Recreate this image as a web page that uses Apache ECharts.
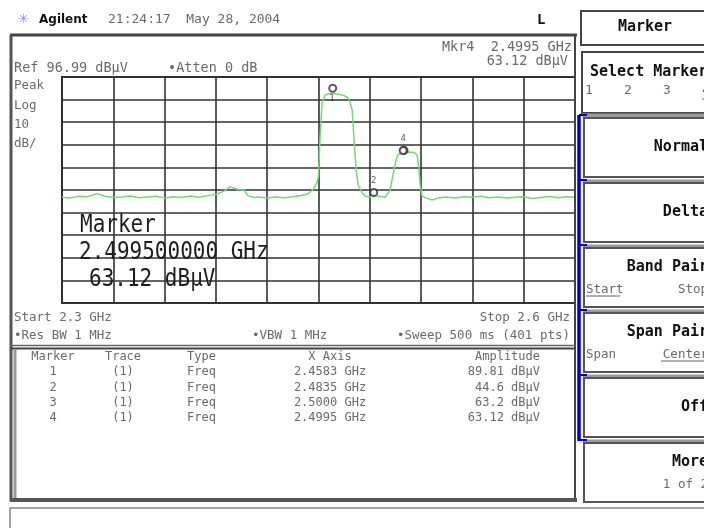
<!DOCTYPE html>
<html>
<head>
<meta charset="utf-8">
<script src="https://cdn.jsdelivr.net/npm/echarts@6/dist/echarts.min.js"></script>
<style>
  html, body { margin: 0; padding: 0; background: #fff; }
  #chart { width: 704px; height: 528px; }
</style>
</head>
<body>
<div id="chart"></div>
<script>
// trace 1 (GHz / dBµV)
const traceFreq = [
  2.300, 2.305, 2.310, 2.315, 2.3205, 2.325, 2.330, 2.335, 2.340, 2.345,
  2.350, 2.355, 2.360, 2.365, 2.370, 2.375, 2.380, 2.385, 2.390, 2.395,
  2.398, 2.400, 2.403, 2.4065, 2.4085, 2.412, 2.415, 2.420, 2.425, 2.430,
  2.435, 2.440, 2.444, 2.447, 2.449, 2.450, 2.4509, 2.4521, 2.4539, 2.4560,
  2.4583, 2.4605, 2.4626, 2.4650, 2.4673, 2.4685, 2.4697, 2.4708, 2.4720, 2.4732,
  2.4755, 2.4773, 2.4800, 2.4835, 2.4860, 2.4890, 2.4919, 2.4931, 2.4942, 2.4954,
  2.4966, 2.4977, 2.4995, 2.5000, 2.5024, 2.5050, 2.5065, 2.5077, 2.5088, 2.5094,
  2.5106, 2.5130, 2.5165, 2.5200, 2.525, 2.530, 2.535, 2.540, 2.545, 2.550,
  2.555, 2.560, 2.565, 2.570, 2.575, 2.580, 2.585, 2.590, 2.595, 2.600
];
const traceAmp = [
  43.8, 43.5, 44.2, 44.0, 45.4, 44.2, 43.7, 43.9, 44.3, 43.6,
  43.9, 44.2, 43.5, 44.0, 43.7, 44.3, 43.8, 44.5, 45.0, 46.6,
  48.3, 48.0, 47.2, 47.0, 44.6, 43.7, 43.9, 43.5, 43.9, 43.6,
  44.0, 44.6, 45.3, 47.4, 50.1, 52.7, 70.4, 85.5, 89.0, 89.6,
  89.81, 89.5, 89.2, 88.8, 87.7, 85.6, 82.4, 69.1, 55.8, 49.2,
  45.7, 44.3, 43.9, 44.6, 44.1, 43.8, 46.8, 52.0, 56.0, 60.3,
  62.8, 63.5, 63.12, 63.2, 63.8, 63.7, 63.3, 62.4, 55.8, 49.2,
  44.3, 43.4, 42.6, 43.5, 43.9, 43.5, 44.0, 43.8, 44.2, 43.6,
  43.9, 43.5, 43.8, 44.0, 43.2, 43.7, 44.1, 43.6, 44.0, 43.8
];

// marker table
const markerIds = ['1', '2', '3', '4'];
const markerTrace = ['(1)', '(1)', '(1)', '(1)'];
const markerType = ['Freq', 'Freq', 'Freq', 'Freq'];
const markerFreq = [2.4583, 2.4835, 2.5000, 2.4995];
const markerAmp = [89.81, 44.6, 63.2, 63.12];
const markerXText = ['2.4583 GHz', '2.4835 GHz', '2.5000 GHz', '2.4995 GHz'];
const markerAmpText = ['89.81 dBµV', '44.6 dBµV', '63.2 dBµV', '63.12 dBµV'];

// screen settings
const refLevel = 96.99;
const dbPerDiv = 10;
const startGHz = 2.3;
const stopGHz = 2.6;

const softKeys = [
  { label: 'Normal' },
  { label: 'Delta' },
  { label: 'Band Pair', left: 'Start', right: 'Stop' },
  { label: 'Span Pair', left: 'Span', right: 'Center' },
  { label: 'Off' },
  { label: 'More', right: '1 of 2' }
];

const MONO = '"DejaVu Sans Mono", monospace';

function txt(x, y, s, o) {
  o = o || {};
  const align = o.align || 'left';
  return {
    type: 'text', x: x, y: y, z: 100,
    scaleY: o.scaleY || 1,
    style: {
      text: s,
      fill: o.color || '#6a6a6a',
      font: (o.bold ? 'bold ' : '') + (o.size || 13) + 'px ' + (o.family || MONO),
      align: align, textAlign: align,
      verticalAlign: 'middle', textVerticalAlign: 'middle'
    }
  };
}
function line(x1, y1, x2, y2, color, w) {
  return { type: 'line', z: 90, shape: { x1, y1, x2, y2 }, style: { stroke: color, lineWidth: w } };
}
function box(x, y, w, h, color, lw) {
  return { type: 'rect', z: 90, shape: { x, y, width: w, height: h }, style: { fill: 'none', stroke: color, lineWidth: lw } };
}

const g = [];

// header strip
g.push(txt(18, 20, '✳', { color: '#8c8cf0', size: 13, family: '"DejaVu Sans"' }));
g.push(txt(39, 20, 'Agilent', { color: '#111', bold: true, size: 12, family: '"DejaVu Sans"' }));
g.push(txt(108, 20, '21:24:17  May 28, 2004', { size: 13 }));
g.push(txt(537, 20, 'L', { color: '#111', bold: true, size: 14 }));

// main display frame
g.push(line(10, 35, 577, 35, '#444', 3));
g.push(line(11, 35, 11, 501, '#555', 3));
g.push(line(575, 35, 575, 501, '#444', 2));
g.push(line(11, 345.5, 575, 345.5, '#666', 1.5));
g.push(line(11, 348.5, 575, 348.5, '#444', 2));
g.push(line(15, 349, 15, 498, '#999', 3));
g.push(line(10, 500, 577, 500, '#555', 4));
g.push(box(10, 508, 700, 30, '#888', 1.5));

// annotations around the graticule
g.push(txt(14, 68, 'Ref 96.99 dBµV', { size: 13.5 }));
g.push(txt(168, 68, '•Atten 0 dB', { size: 13.5 }));
g.push(txt(572, 47, 'Mkr4  2.4995 GHz', { size: 13.5, align: 'right' }));
g.push(txt(568, 61, '63.12 dBµV', { size: 13.5, align: 'right' }));
['Peak', 'Log', '10', 'dB/'].forEach((s, i) => g.push(txt(14, 86 + i * 19.3, s, { size: 12.5 })));
g.push(txt(14, 318, 'Start 2.3 GHz', { size: 12.5 }));
g.push(txt(570, 318, 'Stop 2.6 GHz', { size: 12.5, align: 'right' }));
g.push(txt(14, 336, '•Res BW 1 MHz', { size: 12.5 }));
g.push(txt(252, 336, '•VBW 1 MHz', { size: 12.5 }));
g.push(txt(570, 336, '•Sweep 500 ms (401 pts)', { size: 12.5, align: 'right' }));

// big marker readout inside the graticule
g.push(txt(80, 226, 'Marker', { color: '#1e1e1e', size: 21, scaleY: 1.15 }));
g.push(txt(79, 253, '2.499500000 GHz', { color: '#1e1e1e', size: 21, scaleY: 1.15 }));
g.push(txt(89, 280, '63.12 dBµV', { color: '#1e1e1e', size: 21, scaleY: 1.15 }));

// marker table
const rowY = [372, 388, 403, 418];
g.push(txt(53, 357, 'Marker', { size: 12, align: 'center' }));
g.push(txt(123, 357, 'Trace', { size: 12, align: 'center' }));
g.push(txt(187, 357, 'Type', { size: 12 }));
g.push(txt(330, 357, 'X Axis', { size: 12, align: 'center' }));
g.push(txt(540, 357, 'Amplitude', { size: 12, align: 'right' }));
markerIds.forEach((id, i) => {
  g.push(txt(53, rowY[i], id, { size: 12, align: 'center' }));
  g.push(txt(123, rowY[i], markerTrace[i], { size: 12, align: 'center' }));
  g.push(txt(187, rowY[i], markerType[i], { size: 12 }));
  g.push(txt(330, rowY[i], markerXText[i], { size: 12, align: 'center' }));
  g.push(txt(540, rowY[i], markerAmpText[i], { size: 12, align: 'right' }));
});

// soft key panel
g.push(box(581, 11, 135, 34, '#444', 2));
g.push(txt(645, 27, 'Marker', { color: '#111', bold: true, size: 15, align: 'center' }));
g.push(box(582, 52, 135, 61, '#444', 2));
g.push(line(582, 115, 710, 115, '#999', 3));
g.push(txt(590, 72, 'Select Marker', { color: '#111', bold: true, size: 15 }));
['1', '2', '3', '4'].forEach((s, i) => g.push(txt(585 + i * 39, 91, s, { size: 13 })));
g.push(line(702, 99, 712, 99, '#666', 1));

softKeys.forEach((k, i) => {
  const y0 = 115 + i * 65;
  g.push(line(583, y0 + 1, 710, y0 + 1, '#999', 3));
  g.push(box(584, y0 + 3, 135, 59, '#555', 2));
  const hasSub = k.left || k.right;
  g.push(txt(708, y0 + (hasSub ? 22 : 32), k.label, { color: '#111', bold: true, size: 15, align: 'right' }));
  if (k.left) {
    g.push(txt(586, y0 + 45, k.left, { size: 12.5 }));
  }
  if (k.right) {
    g.push(txt(708, y0 + 45, k.right, { size: 12.5, align: 'right' }));
  }
});
g.push(line(586, 296, 620, 296, '#666', 1));
g.push(line(661, 361, 708, 361, '#666', 1));
g.push(line(579, 115, 579, 441, '#0000cc', 3.5));
for (let i = 0; i <= 5; i++) {
  g.push(line(579, 115 + i * 65, 587, 115 + i * 65, '#0000cc', 2));
}

// marker symbols on the trace
const symbolOffsets = [[0, -5], [-2, -3], [0, -3], [0, -3]];
const labelPos = [[1, 10], 'top', 'top', 'top'];
const markerData = markerFreq.map((f, i) => ({
  value: [f, markerAmp[i]],
  symbolOffset: symbolOffsets[i],
  label: {
    show: i !== 2,
    position: labelPos[i],
    distance: 3,
    formatter: markerIds[i],
    color: '#333',
    fontSize: 9,
    fontFamily: MONO
  }
}));

const chart = echarts.init(document.getElementById('chart'), null, { renderer: 'canvas' });
chart.setOption({
  animation: false,
  backgroundColor: '#fff',
  grid: {
    left: 62, top: 77, width: 513, height: 226,
    show: true, borderColor: '#2e2e2e', borderWidth: 2, backgroundColor: 'transparent'
  },
  xAxis: {
    type: 'value', min: startGHz, max: stopGHz, interval: (stopGHz - startGHz) / 10,
    axisLabel: { show: false }, axisTick: { show: false }, axisLine: { show: false },
    splitLine: { show: true, lineStyle: { color: '#333', width: 1.6 } }
  },
  yAxis: {
    type: 'value', min: refLevel - 10 * dbPerDiv, max: refLevel, interval: dbPerDiv,
    axisLabel: { show: false }, axisTick: { show: false }, axisLine: { show: false },
    splitLine: { show: true, lineStyle: { color: '#333', width: 1.6 } }
  },
  series: [
    {
      type: 'line', name: 'Trace 1',
      data: traceFreq.map((f, i) => [f, traceAmp[i]]),
      showSymbol: false, z: 3,
      lineStyle: { color: '#76d876', width: 1.5 }
    },
    {
      type: 'scatter', name: 'Markers', z: 4,
      symbol: 'emptyCircle', symbolSize: 7,
      itemStyle: { color: '#333', borderColor: '#333', borderWidth: 1.5 },
      labelLayout: { hideOverlap: false },
      data: markerData
    }
  ],
  graphic: { elements: g }
});
</script>
</body>
</html>
